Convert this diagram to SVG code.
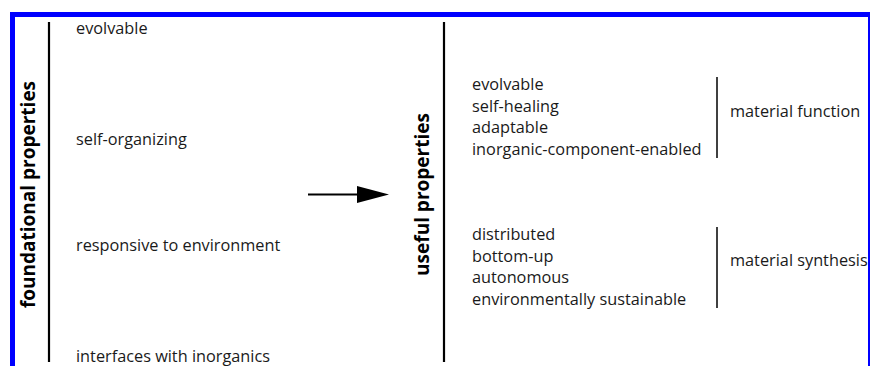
<svg xmlns="http://www.w3.org/2000/svg" width="870" height="366" viewBox="0 0 870 366">
<style>
.t{font-family:"Open Sans","Liberation Sans",sans-serif;font-size:16.3px;fill:#1a1a1a}
.h{font-family:"Open Sans","Liberation Sans",sans-serif;font-size:19px;font-weight:bold;fill:#000}
.ln{stroke:#000;stroke-width:2.2;fill:none}
.br{stroke:#000;stroke-width:1.5;fill:none}
</style>
<rect x="0" y="0" width="870" height="366" fill="#fff"/>
<rect x="12.5" y="14.5" width="858" height="400" fill="none" stroke="#0000ff" stroke-width="5"/>
<g id="foundational">
<line class="ln" x1="49" y1="22" x2="49" y2="362"/>
<text class="h" transform="translate(35,194.5) rotate(-90)" text-anchor="middle">foundational properties</text>
<text class="t" x="76" y="34">evolvable</text>
<text class="t" x="76" y="145">self-organizing</text>
<text class="t" x="76" y="251">responsive to environment</text>
<text class="t" x="76" y="362">interfaces with inorganics</text>
</g>
<g id="useful">
<line class="ln" x1="444" y1="22" x2="444" y2="362"/>
<text class="h" transform="translate(429,194.5) rotate(-90)" text-anchor="middle">useful properties</text>
</g>
<g id="function">
<text class="t" x="472" y="90">evolvable</text>
<text class="t" x="472" y="111.5">self-healing</text>
<text class="t" x="472" y="133">adaptable</text>
<text class="t" x="472" y="154.5">inorganic-component-enabled</text>
<line class="br" x1="717" y1="77" x2="717" y2="158"/>
<text class="t" x="730" y="117">material function</text>
</g>
<g id="synthesis">
<text class="t" x="472" y="240">distributed</text>
<text class="t" x="472" y="261.5">bottom-up</text>
<text class="t" x="472" y="283">autonomous</text>
<text class="t" x="472" y="304.5">environmentally sustainable</text>
<line class="br" x1="717" y1="227" x2="717" y2="308"/>
<text class="t" x="730" y="266">material synthesis</text>
</g>
<g id="connectors">
<line x1="308" y1="194.5" x2="358" y2="194.5" stroke="#000" stroke-width="2"/>
<path d="M357,186 L389,194.5 L357,203 Z" fill="#000"/>
</g>
</svg>
